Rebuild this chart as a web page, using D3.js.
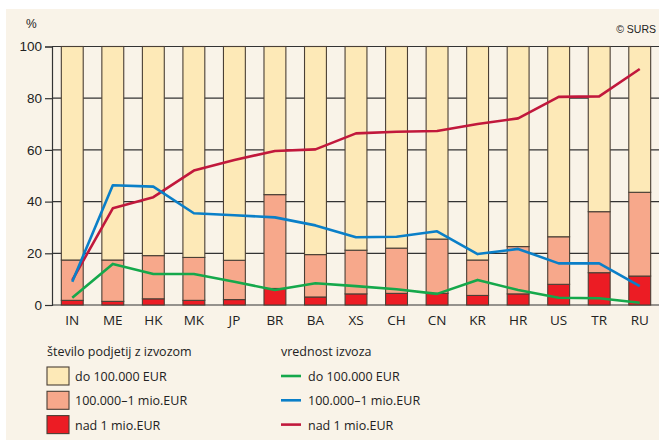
<!DOCTYPE html>
<html>
<head>
<meta charset="utf-8">
<script src="https://cdn.jsdelivr.net/npm/d3@7"></script>
<style>
  body { margin: 0; background: #fff; }
  svg { display: block; font-family: "Open Sans", sans-serif; }
</style>
</head>
<body>
<div id="chart"></div>
<script>
const categories = ['IN', 'ME', 'HK', 'MK', 'JP', 'BR', 'BA', 'XS', 'CH', 'CN', 'KR', 'HR', 'US', 'TR', 'RU'];

// share of exporting companies (stacked bars), %
const firmsOver1m = [1.8, 1.4, 2.4, 1.8, 2.1, 6.4, 3.1, 4.3, 4.5, 4.5, 3.7, 4.3, 8.0, 12.5, 11.2];
const firms100kTo1m = [15.6, 16.0, 16.7, 16.6, 15.2, 36.3, 16.4, 16.9, 17.5, 21.0, 13.7, 18.3, 18.4, 23.6, 32.4];

// share of export value (lines), %
const valueTo100k = [2.8, 15.9, 12.0, 12.0, 9.0, 5.8, 8.4, 7.3, 6.1, 4.3, 9.7, 5.8, 2.8, 2.6, 0.9];
const value100kTo1m = [9.0, 46.3, 45.8, 35.5, 34.7, 33.9, 30.8, 26.2, 26.4, 28.5, 19.7, 21.7, 16.1, 16.1, 7.3];
const valueOver1m = [9.6, 37.4, 41.7, 52.0, 56.1, 59.6, 60.2, 66.4, 67.0, 67.3, 70.0, 72.2, 80.5, 80.7, 91.3];

const yTicks = [0, 20, 40, 60, 80, 100];

const W = 659, H = 443;
const COL = {
  panel: '#f9f3e8',
  grid: '#333333',
  cream: '#fde9b7',
  salmon: '#f7a88b',
  red: '#ec1c24',
  green: '#15a84b',
  blue: '#0a7fc8',
  crimson: '#c1183c',
  text: '#222'
};

const svg = d3.select('#chart').append('svg')
  .attr('width', W)
  .attr('height', H);

svg.append('rect')
  .attr('x', 6).attr('y', 9)
  .attr('width', W - 6).attr('height', H - 12)
  .attr('fill', COL.panel);

const x = d3.scaleBand()
  .domain(categories)
  .range([52, 660])
  .paddingInner(0.46)
  .paddingOuter(0.23);

const y = d3.scaleLinear()
  .domain([0, 100])
  .range([305, 46.5]);

// gridlines + y axis
const yAxis = svg.append('g')
  .attr('transform', 'translate(52,0)')
  .call(d3.axisLeft(y).tickValues(yTicks).tickSize(7).tickPadding(3));
yAxis.select('.domain').attr('stroke', COL.grid).attr('stroke-width', 1.2);
yAxis.selectAll('.tick line').attr('stroke', COL.grid).attr('stroke-width', 1.2);
yAxis.selectAll('.tick text')
  .attr('font-size', 13.5)
  .attr('fill', COL.text)
  .attr('font-family', '"Liberation Sans", Arial, sans-serif');

svg.append('g')
  .selectAll('line')
  .data(yTicks)
  .join('line')
  .attr('x1', 52).attr('x2', W)
  .attr('y1', d => y(d)).attr('y2', d => y(d))
  .attr('stroke', COL.grid)
  .attr('stroke-width', 1.2);

// stacked bars
const rows = categories.map((c, i) => ({
  cat: c,
  over1m: firmsOver1m[i],
  mid: firms100kTo1m[i],
  to100k: 100 - firmsOver1m[i] - firms100kTo1m[i]
}));
const stack = d3.stack().keys(['over1m', 'mid', 'to100k'])(rows);
const barColors = { over1m: COL.red, mid: COL.salmon, to100k: COL.cream };

svg.append('g')
  .selectAll('g')
  .data(stack)
  .join('g')
  .attr('fill', s => barColors[s.key])
  .selectAll('rect')
  .data(s => s)
  .join('rect')
  .attr('x', d => x(d.data.cat))
  .attr('width', x.bandwidth())
  .attr('y', d => y(d[1]))
  .attr('height', d => y(d[0]) - y(d[1]))
  .attr('stroke', '#4a3f35')
  .attr('stroke-width', 1.1);

// lines
const line = d3.line()
  .x((d, i) => x(categories[i]) + x.bandwidth() / 2)
  .y(d => y(d));

const series = [
  { values: valueOver1m, color: COL.crimson },
  { values: value100kTo1m, color: COL.blue },
  { values: valueTo100k, color: COL.green }
];

svg.append('g')
  .selectAll('path')
  .data(series)
  .join('path')
  .attr('d', s => line(s.values))
  .attr('fill', 'none')
  .attr('stroke', s => s.color)
  .attr('stroke-width', 2.6)
  .attr('stroke-linejoin', 'round');

// x labels
svg.append('g')
  .selectAll('text')
  .data(categories)
  .join('text')
  .attr('x', d => x(d) + x.bandwidth() / 2)
  .attr('y', 325)
  .attr('text-anchor', 'middle')
  .attr('font-size', 13.5)
  .attr('fill', COL.text)
  .text(d => d);

svg.append('text')
  .attr('x', 26).attr('y', 28)
  .attr('font-size', 12)
  .attr('fill', COL.text)
  .attr('font-family', '"Liberation Sans", Arial, sans-serif')
  .text('%');

svg.append('text')
  .attr('x', 656).attr('y', 33)
  .attr('text-anchor', 'end')
  .attr('font-size', 10.5)
  .attr('fill', COL.text)
  .attr('font-family', '"Liberation Sans", Arial, sans-serif')
  .text('© SURS');

// legends
const barLegend = [
  { label: 'do 100.000 EUR', color: COL.cream },
  { label: '100.000–1 mio.EUR', color: COL.salmon },
  { label: 'nad 1 mio.EUR', color: COL.red }
];
const lineLegend = [
  { label: 'do 100.000 EUR', color: COL.green },
  { label: '100.000–1 mio.EUR', color: COL.blue },
  { label: 'nad 1 mio.EUR', color: COL.crimson }
];

svg.append('text')
  .attr('x', 47).attr('y', 356)
  .attr('font-size', 12.5)
  .attr('fill', COL.text)
  .text('število podjetij z izvozom');

const bl = svg.append('g')
  .selectAll('g')
  .data(barLegend)
  .join('g')
  .attr('transform', (d, i) => `translate(47,${367 + i * 24.3})`);
bl.append('rect')
  .attr('width', 22).attr('height', 18)
  .attr('fill', d => d.color)
  .attr('stroke', '#4a3f35')
  .attr('stroke-width', 1.1);
bl.append('text')
  .attr('x', 28).attr('y', 14)
  .attr('font-size', 12.5)
  .attr('fill', COL.text)
  .text(d => d.label);

svg.append('text')
  .attr('x', 281).attr('y', 356)
  .attr('font-size', 12.5)
  .attr('fill', COL.text)
  .text('vrednost izvoza');

const ll = svg.append('g')
  .selectAll('g')
  .data(lineLegend)
  .join('g')
  .attr('transform', (d, i) => `translate(281,${367 + i * 24.3})`);
ll.append('line')
  .attr('x1', 0).attr('x2', 20)
  .attr('y1', 9).attr('y2', 9)
  .attr('stroke', d => d.color)
  .attr('stroke-width', 2.6);
ll.append('text')
  .attr('x', 27).attr('y', 14)
  .attr('font-size', 12.5)
  .attr('fill', COL.text)
  .text(d => d.label);
</script>
</body>
</html>
